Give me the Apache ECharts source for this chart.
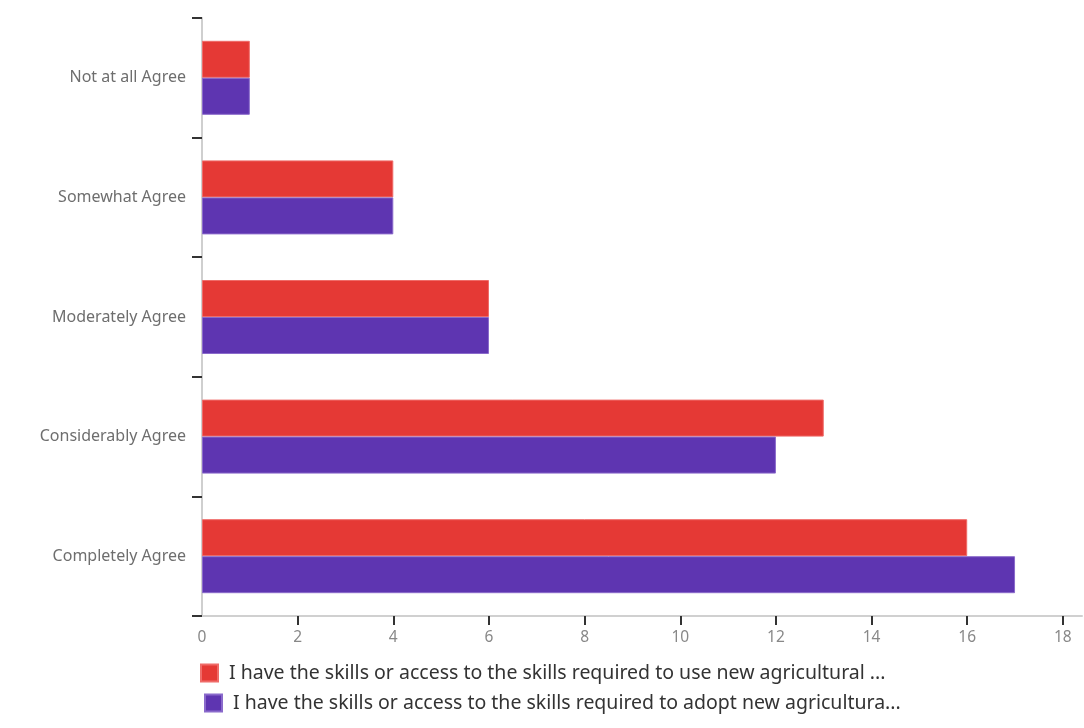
<!DOCTYPE html>
<html>
<head>
<meta charset="utf-8">
<script src="https://cdn.jsdelivr.net/npm/echarts@6/dist/echarts.min.js"></script>
<style>
html,body{margin:0;padding:0;background:#fff;}
#chart{width:1084px;height:728px;}
</style>
</head>
<body>
<div id="chart"></div>
<script>
const categories = ['Not at all Agree', 'Somewhat Agree', 'Moderately Agree', 'Considerably Agree', 'Completely Agree'];
const seriesNames = [
  'I have the skills or access to the skills required to use new agricultural ...',
  'I have the skills or access to the skills required to adopt new agricultura...'
];
const useValues = [1, 4, 6, 13, 16];
const adoptValues = [1, 4, 6, 12, 17];
const xTickLabels = [0, 2, 4, 6, 8, 10, 12, 14, 16, 18];
const xTickMarks = [2, 4, 6, 8, 10, 12, 14, 16, 18];

const chart = echarts.init(document.getElementById('chart'));
const font = 'Noto Sans';
chart.setOption({
  animation: false,
  grid: { left: 202, top: 18, right: 2, bottom: 112, containLabel: false },
  xAxis: {
    type: 'value',
    min: 0,
    max: 18.4,
    interval: 2,
    splitLine: { show: false },
    axisLine: { show: true, lineStyle: { color: '#d0d0d0', width: 2 } },
    axisTick: { show: true, length: 9, customValues: xTickMarks, lineStyle: { color: '#333', width: 2 } },
    axisLabel: { customValues: xTickLabels, color: '#888', fontSize: 15.5, fontFamily: font, margin: 14 }
  },
  yAxis: {
    type: 'category',
    data: categories,
    inverse: true,
    axisLine: { show: true, lineStyle: { color: '#cfcfcf', width: 2 } },
    axisTick: { show: true, length: 10, lineStyle: { color: '#333', width: 2 } },
    axisLabel: { color: '#6e6e6e', fontSize: 16, fontFamily: font, margin: 16, padding: [6, 0, 0, 0] }
  },
  legend: [
    {
      orient: 'vertical', left: 195, top: 658,
      itemWidth: 17, itemHeight: 17, itemGap: 13,
      icon: 'rect',
      data: [seriesNames[0]],
      textStyle: { color: '#333', fontSize: 19.5, fontFamily: font, padding: [0, 0, 0, 6] }
    },
    {
      orient: 'vertical', left: 199, top: 688,
      itemWidth: 17, itemHeight: 17, itemGap: 13,
      icon: 'rect',
      data: [seriesNames[1]],
      textStyle: { color: '#333', fontSize: 19.5, fontFamily: font, padding: [0, 0, 0, 6] }
    }
  ],
  series: [
    {
      name: seriesNames[0], type: 'bar', data: useValues,
      barWidth: 37, barGap: '0%',
      itemStyle: { color: '#e53935', borderColor: '#ef6b68', borderWidth: 1 }
    },
    {
      name: seriesNames[1], type: 'bar', data: adoptValues,
      barWidth: 37, barGap: '0%',
      itemStyle: { color: '#5e35b1', borderColor: '#8a6acb', borderWidth: 1 }
    }
  ]
});
</script>
</body>
</html>
